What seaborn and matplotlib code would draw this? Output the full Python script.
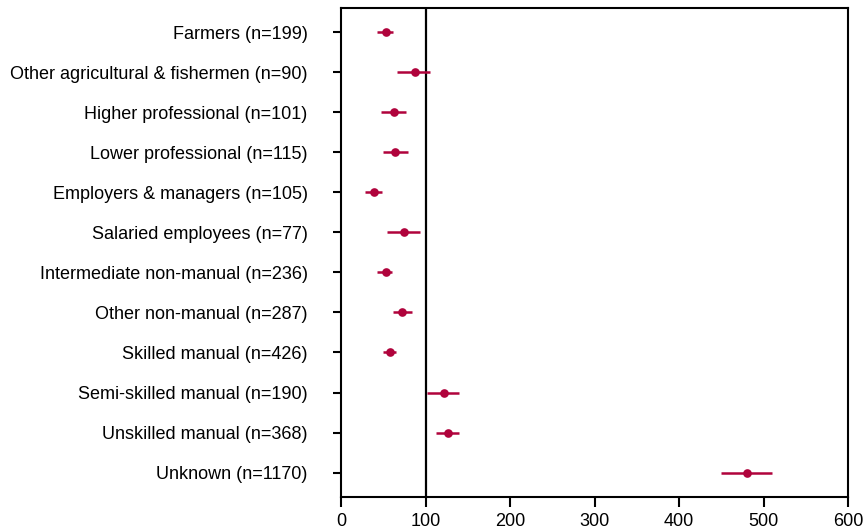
import matplotlib
matplotlib.use("Agg")
import matplotlib.pyplot as plt
import seaborn as sns
import pandas as pd

categories = [
    "Farmers (n=199)",
    "Other agricultural & fishermen (n=90)",
    "Higher professional (n=101)",
    "Lower professional (n=115)",
    "Employers & managers (n=105)",
    "Salaried employees (n=77)",
    "Intermediate non-manual (n=236)",
    "Other non-manual (n=287)",
    "Skilled manual (n=426)",
    "Semi-skilled manual (n=190)",
    "Unskilled manual (n=368)",
    "Unknown (n=1170)",
]
estimate = [53, 87, 63, 64, 39, 75, 53, 72, 58, 122, 127, 480]
ci_low = [43, 66, 47, 50, 28, 54, 43, 61, 50, 102, 112, 450]
ci_high = [62, 105, 77, 79, 48, 93, 60, 84, 65, 140, 140, 510]
x_ticks = [0, 100, 200, 300, 400, 500, 600]
ref_value = 100

color = "#B0033C"

df = pd.DataFrame({"label": categories, "est": estimate, "lo": ci_low, "hi": ci_high})

sns.set_theme(style="white")
plt.rcParams["font.family"] = ["Liberation Sans", "DejaVu Sans"]

fig = plt.figure(figsize=(8.64, 5.31), dpi=100)
ax = fig.add_axes([0.3947, 0.0646, 0.5868, 0.9204])

ax.hlines(y=range(len(df)), xmin=df["lo"], xmax=df["hi"], color=color, lw=1.8, zorder=2)
sns.pointplot(data=df, x="est", y="label", order=categories, errorbar=None,
              linestyle="none", color=color, markers="o", markersize=4.2,
              ax=ax, zorder=3)
ax.axvline(ref_value, color="black", lw=1.6, zorder=1)

ax.set_xlim(0, 600)
ax.set_ylim(len(categories) - 0.4, -0.6)
ax.set_xticks(x_ticks)
ax.set_xlabel("")
ax.set_ylabel("")

for s in ax.spines.values():
    s.set_visible(True)
    s.set_color("black")
    s.set_linewidth(1.5)

ax.tick_params(axis="y", length=6, width=1.5, pad=18, labelsize=13, color="black",
               left=True, labelcolor="black")
ax.tick_params(axis="x", length=7.5, width=1.5, pad=4, labelsize=13, color="black",
               bottom=True, labelcolor="black")

fig.savefig("out.png", dpi=100)
